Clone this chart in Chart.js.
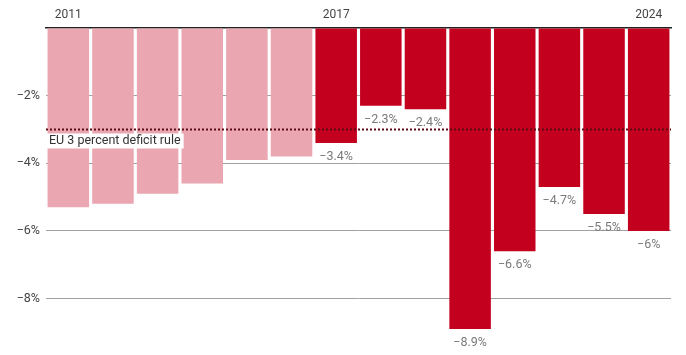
<!DOCTYPE html>
<html><head><meta charset="utf-8">
<script src="https://cdn.jsdelivr.net/npm/chart.js@4"></script>
<style>html,body{margin:0;padding:0;background:#fff;}#wrap{width:686px;height:355px;position:relative;}</style>
</head><body><div id="wrap"><canvas id="c"></canvas></div>
<script>
const years = ['2011','2012','2013','2014','2015','2016','2017','2018','2019','2020','2021','2022','2023','2024'];
const deficit = [-5.3,-5.2,-4.9,-4.6,-3.9,-3.8,-3.4,-2.3,-2.4,-8.9,-6.6,-4.7,-5.5,-6];
const shownYears = ['2011','2017','2024'];
const labelledFrom = '2017';
const ruleValue = -3;
const ruleLabel = 'EU 3 percent deficit rule';
const yTicks = [-2,-4,-6,-8];

const FONT = 'Roboto, "DejaVu Sans", sans-serif';
const fmt = v => '\u2212' + Math.abs(v) + '%';
const firstIdx = years.indexOf(labelledFrom);
const colors = years.map((y,i) => i >= firstIdx ? '#c4001f' : '#eaa6b1');

const overlay = {
  id: 'overlay',
  afterDatasetsDraw(chart) {
    const ctx = chart.ctx, ca = chart.chartArea, ys = chart.scales.y;
    const meta = chart.getDatasetMeta(0);
    ctx.save();
    ctx.font = '12.5px ' + FONT;
    ctx.fillStyle = '#7a7a7a';
    ctx.textAlign = 'center';
    ctx.textBaseline = 'middle';
    meta.data.forEach((bar, i) => {
      if (i < firstIdx) return;
      ctx.fillText(fmt(deficit[i]), bar.x, bar.y + 14);
    });
    const yr = Math.round(ys.getPixelForValue(ruleValue)) + 0.5;
    ctx.strokeStyle = '#5e0a16';
    ctx.lineWidth = 2;
    ctx.setLineDash([2,2]);
    ctx.beginPath(); ctx.moveTo(ca.left, yr); ctx.lineTo(ca.right, yr); ctx.stroke();
    ctx.setLineDash([]);
    ctx.font = '12.5px ' + FONT;
    const w = ctx.measureText(ruleLabel).width;
    ctx.fillStyle = '#fff';
    ctx.fillRect(ca.left + 1, yr + 4, w + 5, 15);
    ctx.fillStyle = '#333';
    ctx.textAlign = 'left';
    ctx.fillText(ruleLabel, ca.left + 3, yr + 11.5);
    ctx.restore();
  }
};

new Chart(document.getElementById('c'), {
  type: 'bar',
  data: { labels: years, datasets: [{ data: deficit, backgroundColor: colors, borderWidth: 0,
    barPercentage: 0.93, categoryPercentage: 1 }] },
  options: {
    responsive: true, maintainAspectRatio: false, animation: false,
    layout: { padding: { left: 0, right: 15, top: 0, bottom: 0 } },
    plugins: { legend: { display: false }, tooltip: { enabled: false } },
    scales: {
      x: {
        position: 'top',
        grid: { display: false, drawTicks: false },
        border: { display: true, color: '#222', width: 1.5 },
        ticks: { autoSkip: false, maxRotation: 0, padding: 6, color: '#444',
          font: { family: FONT, size: 12 },
          callback: function(v, i) { return shownYears.includes(years[i]) ? years[i] : ''; } },
        afterFit: s => { s.height = 28; }
      },
      y: {
        min: -9.27, max: 0,
        afterBuildTicks: s => { s.ticks = [-9.27].concat(yTicks.slice().reverse()).concat([0]).map(v => ({ value: v })); },
        grid: { drawTicks: false, color: c => yTicks.includes(c.tick.value) ? '#a0a0a0' : 'rgba(0,0,0,0)', lineWidth: 1 },
        border: { display: false },
        ticks: { padding: 6, color: '#444', font: { family: FONT, size: 12.5 },
          callback: v => yTicks.includes(v) ? fmt(v) : '' },
        afterFit: s => { s.width = 46; }
      }
    }
  },
  plugins: [overlay]
});
</script></body></html>
